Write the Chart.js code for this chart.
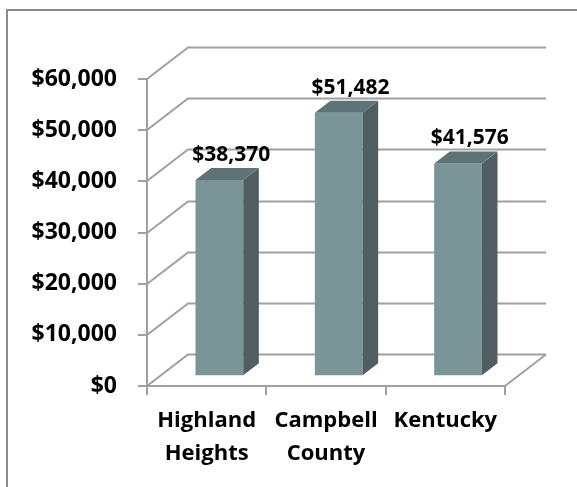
<!DOCTYPE html>
<html>
<head>
<meta charset="utf-8">
<script src="https://cdn.jsdelivr.net/npm/chart.js@4/dist/chart.umd.min.js"></script>
<style>
  html, body { margin: 0; padding: 0; background: #ffffff; }
  #wrap { position: relative; width: 577px; height: 487px; }
</style>
</head>
<body>
<div id="wrap"><canvas id="c" width="577" height="487"></canvas></div>
<script>
// Median household income by area
const categories = [['Highland', 'Heights'], ['Campbell', 'County'], 'Kentucky'];
const incomes = [38370, 51482, 41576];
const yTicks = [0, 10000, 20000, 30000, 40000, 50000, 60000];

const FAMILY = '"Open Sans", Lato, sans-serif';
const Y_FONT = { family: FAMILY, size: 23, weight: 'bold' };
const X_FONT = { family: FAMILY, size: 22, weight: 'bold', lineHeight: 1.5 };
const VALUE_FONT = `bold 21px ${FAMILY}`;
const GRID = '#a0a0a0';
const FACE = '#7a9598', SIDE = '#4f5e61', TOP = '#5f7375';

// depth of the plot box (back wall offset) and where the bars sit inside it
const DEPTH = { dx: 41, dy: -31.5 };
const BAR_FRONT = 0.31, BAR_BACK = 0.69;

const money = v => '$' + Number(v).toLocaleString('en-US');

const box3d = {
  id: 'box3d',
  beforeDatasetsDraw(chart) {
    const { ctx, chartArea: a, scales: { y } } = chart;
    ctx.save();
    ctx.strokeStyle = GRID;
    ctx.lineWidth = 2;
    ctx.beginPath();
    // side wall diagonals and back wall grid lines
    yTicks.forEach(v => {
      const py = Math.round(y.getPixelForValue(v));
      ctx.moveTo(a.left, py);
      ctx.lineTo(a.left + DEPTH.dx, py + DEPTH.dy);
      ctx.lineTo(a.right + DEPTH.dx, py + DEPTH.dy);
    });
    // floor, right edge
    ctx.moveTo(a.right, a.bottom);
    ctx.lineTo(a.right + DEPTH.dx, a.bottom + DEPTH.dy);
    ctx.stroke();
    ctx.restore();
    // front faces are drawn by Chart.js, shifted into the box
    ctx.save();
    ctx.translate(DEPTH.dx * BAR_FRONT, DEPTH.dy * BAR_FRONT);
  },
  afterDatasetsDraw(chart) {
    const { ctx } = chart;
    ctx.restore();
    const fx = DEPTH.dx * BAR_FRONT, fy = DEPTH.dy * BAR_FRONT;
    const bx = DEPTH.dx * BAR_BACK, by = DEPTH.dy * BAR_BACK;
    const meta = chart.getDatasetMeta(0);
    ctx.save();
    meta.data.forEach((bar, i) => {
      const { x, y, base, width } = bar.getProps(['x', 'y', 'base', 'width'], true);
      const l = x - width / 2, r = x + width / 2;
      // right side
      ctx.fillStyle = SIDE;
      ctx.beginPath();
      ctx.moveTo(r + fx, y + fy);
      ctx.lineTo(r + bx, y + by);
      ctx.lineTo(r + bx, base + by);
      ctx.lineTo(r + fx, base + fy);
      ctx.closePath();
      ctx.fill();
      // top
      ctx.fillStyle = TOP;
      ctx.beginPath();
      ctx.moveTo(l + fx, y + fy);
      ctx.lineTo(l + bx, y + by);
      ctx.lineTo(r + bx, y + by);
      ctx.lineTo(r + fx, y + fy);
      ctx.closePath();
      ctx.fill();
      // value label
      ctx.fillStyle = '#000000';
      ctx.font = VALUE_FONT;
      ctx.textAlign = 'center';
      ctx.textBaseline = 'middle';
      ctx.fillText(money(incomes[i]), x + (fx + bx) / 2 + 4, y + fy - 25);
    });
    ctx.restore();
  },
  afterDraw(chart) {
    // outer frame
    const { ctx } = chart;
    ctx.save();
    ctx.strokeStyle = '#8c8c8c';
    ctx.lineWidth = 2;
    ctx.strokeRect(7, 10, 700, 700);
    ctx.restore();
  }
};

new Chart(document.getElementById('c'), {
  type: 'bar',
  data: {
    labels: categories,
    datasets: [{
      data: incomes,
      backgroundColor: FACE,
      borderWidth: 0,
      categoryPercentage: 0.4,
      barPercentage: 1.0
    }]
  },
  options: {
    responsive: false,
    animation: false,
    events: [],
    layout: { padding: { top: 79, left: 0, right: 72, bottom: 0 } },
    plugins: { legend: { display: false }, tooltip: { enabled: false } },
    scales: {
      x: {
        afterFit: s => { s.height = 101; },
        grid: { display: true, drawOnChartArea: false, offset: true, color: GRID, lineWidth: 2, tickLength: 9 },
        border: { display: true, color: GRID, width: 2 },
        ticks: { color: '#000000', font: X_FONT, padding: 9, maxRotation: 0, autoSkip: false }
      },
      y: {
        min: 0,
        max: 60000,
        afterFit: s => { s.width = 147; },
        afterBuildTicks: s => { s.ticks = yTicks.map(v => ({ value: v })); },
        grid: { display: true, drawOnChartArea: false, color: GRID, lineWidth: 2, tickLength: 9 },
        border: { display: true, color: GRID, width: 2 },
        ticks: { color: '#000000', font: Y_FONT, padding: 21, callback: v => money(v) }
      }
    }
  },
  plugins: [box3d]
});
</script>
</body>
</html>
